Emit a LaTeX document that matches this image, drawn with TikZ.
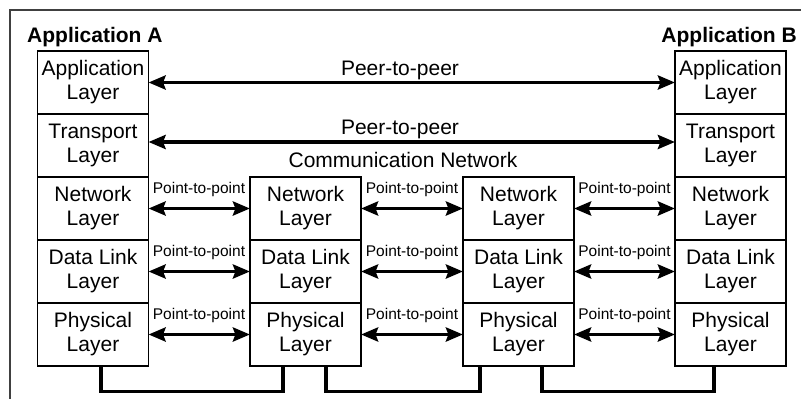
\documentclass[tikz,border=0pt]{standalone}
\usepackage{fontspec}
\setmainfont{Liberation Sans}
\usetikzlibrary{arrows.meta}
\begin{document}
\begin{tikzpicture}[x=1pt,y=-1pt,
  layerbox/.style={draw=black, line width=1.1pt, fill=white, minimum width=111pt, minimum height=63pt,
    inner sep=0pt, align=center, font=\fontsize{21}{24}\selectfont},
  biarrow/.style={line width=3.8pt, {Stealth[length=17pt,width=14pt,inset=2.5pt]}-{Stealth[length=17pt,width=14pt,inset=2.5pt]}, shorten <=-0.5pt, shorten >=-0.5pt},
  biglabel/.style={anchor=base, inner sep=0pt, font=\fontsize{21}{24}\selectfont},
  smalllabel/.style={anchor=base, inner sep=0pt, font=\fontsize{15.5}{18}\selectfont},
  titlelabel/.style={inner sep=0pt, font=\fontsize{21}{24}\selectfont\bfseries},
  link/.style={line width=3.2pt, line join=miter}
]
\useasboundingbox (0,0) rectangle (801,399);
% frame
\draw[black!75, line width=1.4pt] (10,399) -- (10,10) -- (801,10);

% titles
\node[titlelabel, anchor=base west] (ta) at (27,42) {Application A};
\node[titlelabel, anchor=base east] (tb) at (797,42) {Application B};

% left stack
\node[layerbox] (A1) at (93,82.5) {Application\\Layer};
\node[layerbox] (A2) at (93,145.5) {Transport\\Layer};
\node[layerbox] (A3) at (93,208.5) {Network\\Layer};
\node[layerbox] (A4) at (93,271.5) {Data Link\\Layer};
\node[layerbox] (A5) at (93,334.5) {Physical\\Layer};
% middle stack 1
\node[layerbox] (M3) at (305.5,208.5) {Network\\Layer};
\node[layerbox] (M4) at (305.5,271.5) {Data Link\\Layer};
\node[layerbox] (M5) at (305.5,334.5) {Physical\\Layer};
% middle stack 2
\node[layerbox] (N3) at (518.5,208.5) {Network\\Layer};
\node[layerbox] (N4) at (518.5,271.5) {Data Link\\Layer};
\node[layerbox] (N5) at (518.5,334.5) {Physical\\Layer};
% right stack
\node[layerbox] (B1) at (730.5,82.5) {Application\\Layer};
\node[layerbox] (B2) at (730.5,145.5) {Transport\\Layer};
\node[layerbox] (B3) at (730.5,208.5) {Network\\Layer};
\node[layerbox] (B4) at (730.5,271.5) {Data Link\\Layer};
\node[layerbox] (B5) at (730.5,334.5) {Physical\\Layer};

% peer-to-peer
\draw[biarrow] (A1.east) -- (B1.west);
\draw[biarrow] ([yshift=3.5pt]A2.east) -- ([yshift=3.5pt]B2.west);
\node[biglabel] (p1) at (400,75) {Peer-to-peer};
\node[biglabel] (p2) at (400,134) {Peer-to-peer};
\node[biglabel] (cn) at (403,167) {Communication Network};

% point-to-point
\foreach \l/\r in {A/M,M/N,N/B}{
  \foreach \i in {3,4,5}{
    \draw[biarrow] (\l\i.east) -- (\r\i.west);
  }
}
\foreach \x in {199,412,624.5}{
  \node[smalllabel] at (\x,193) {Point-to-point};
  \node[smalllabel] at (\x,256) {Point-to-point};
  \node[smalllabel] at (\x,319) {Point-to-point};
}

% physical links
\draw[link] ([xshift=8pt]A5.south) -- ++(0,25) -| ([xshift=-22.5pt]M5.south);
\draw[link] ([xshift=20.5pt]M5.south) -- ++(0,25) -| ([xshift=-38.5pt]N5.south);
\draw[link] ([xshift=23.5pt]N5.south) -- ++(0,25) -| ([xshift=-16.5pt]B5.south);
\end{tikzpicture}
\end{document}
